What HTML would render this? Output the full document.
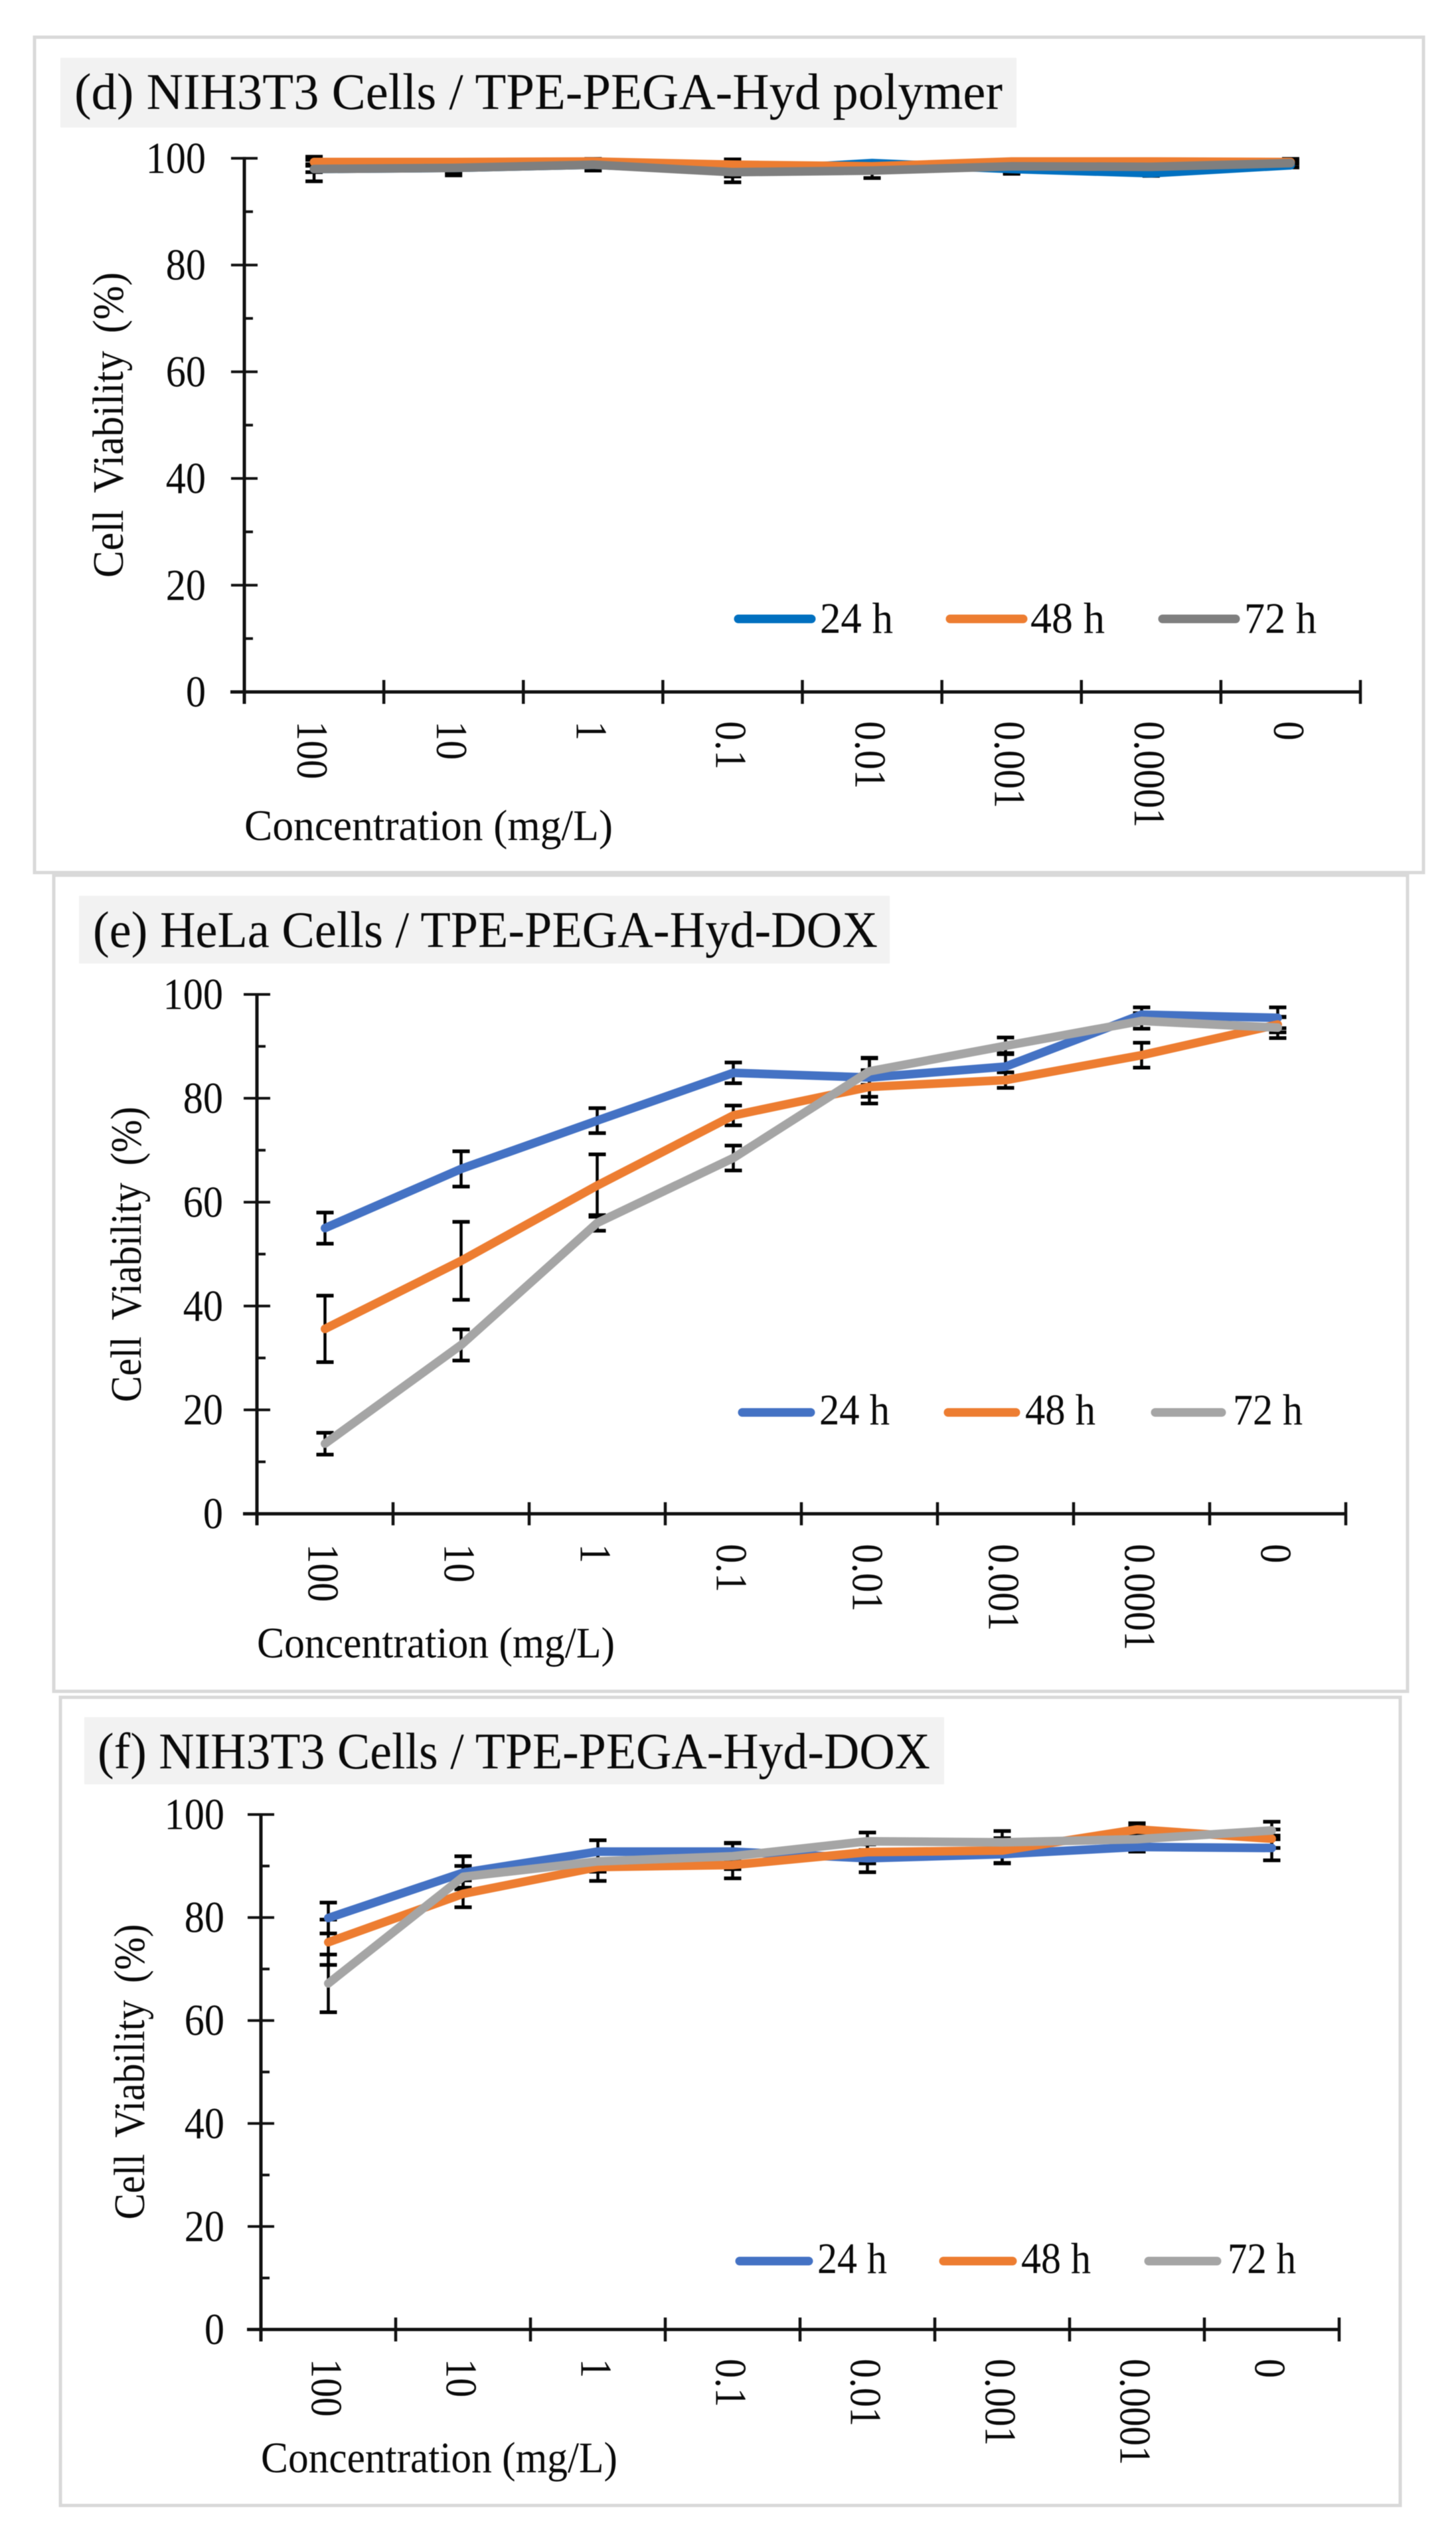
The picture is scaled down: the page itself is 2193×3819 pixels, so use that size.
<!DOCTYPE html>
<html lang="en">
<head>
<meta charset="utf-8">
<title>Cell viability charts</title>
<style>
html,body{margin:0;padding:0;background:#fff;}
svg{display:block;filter:blur(0.6px);}
text{font-family:"Liberation Serif",serif;fill:#0a0a0a;}
.box{fill:#fff;stroke:#d9d9d9;stroke-width:5;}
.tbg{fill:#f2f2f2;}
.title{font-size:77px;}
.ax{font-size:66px;}
.ytitle{font-size:66px;word-spacing:12px;}
.leg{font-size:66px;}
</style>
</head>
<body>
<svg id="root" xmlns="http://www.w3.org/2000/svg" width="2193" height="3819" viewBox="0 0 2193 3819">
<rect width="2193" height="3819" fill="#fff"/>

<g id="panel-d">
  <rect class="box" x="52" y="56" width="2092" height="1258"/>
  <rect class="tbg" x="91" y="87" width="1440" height="105"/>
  <text class="title" x="112" y="164" textLength="1398" lengthAdjust="spacingAndGlyphs">(d) NIH3T3 Cells / TPE-PEGA-Hyd polymer</text>
  <text class="ytitle" transform="translate(185,640) rotate(-90)" text-anchor="middle" textLength="460" lengthAdjust="spacingAndGlyphs">Cell Viability (%)</text>
  <text class="ax" x="368" y="1265" textLength="555" lengthAdjust="spacingAndGlyphs">Concentration (mg/L)</text>
  <g>
    <line x1="1112" y1="932" x2="1222" y2="932" stroke="#0070C0" stroke-width="13" stroke-linecap="round"/>
    <text class="leg" x="1235" y="953" textLength="110" lengthAdjust="spacingAndGlyphs">24 h</text>
    <line x1="1431" y1="932" x2="1541" y2="932" stroke="#ED7D31" stroke-width="13" stroke-linecap="round"/>
    <text class="leg" x="1552" y="953" textLength="112" lengthAdjust="spacingAndGlyphs">48 h</text>
    <line x1="1751" y1="932" x2="1861" y2="932" stroke="#7F7F7F" stroke-width="13" stroke-linecap="round"/>
    <text class="leg" x="1874" y="953" textLength="109" lengthAdjust="spacingAndGlyphs">72 h</text>
  </g>
</g>

<g id="panel-e">
  <rect class="box" x="81" y="1318" width="2039" height="1229"/>
  <rect class="tbg" x="119" y="1349" width="1221" height="102"/>
  <text class="title" x="140" y="1426" textLength="1182" lengthAdjust="spacingAndGlyphs">(e) HeLa Cells / TPE-PEGA-Hyd-DOX</text>
  <text class="ytitle" transform="translate(212,1889) rotate(-90)" text-anchor="middle" textLength="445" lengthAdjust="spacingAndGlyphs">Cell Viability (%)</text>
  <text class="ax" x="387" y="2496" textLength="539" lengthAdjust="spacingAndGlyphs">Concentration (mg/L)</text>
  <g>
    <line x1="1118" y1="2127" x2="1221" y2="2127" stroke="#4472C4" stroke-width="13" stroke-linecap="round"/>
    <text class="leg" x="1234" y="2145" textLength="106" lengthAdjust="spacingAndGlyphs">24 h</text>
    <line x1="1428" y1="2127" x2="1530" y2="2127" stroke="#ED7D31" stroke-width="13" stroke-linecap="round"/>
    <text class="leg" x="1544" y="2145" textLength="106" lengthAdjust="spacingAndGlyphs">48 h</text>
    <line x1="1740" y1="2127" x2="1840" y2="2127" stroke="#A5A5A5" stroke-width="13" stroke-linecap="round"/>
    <text class="leg" x="1857" y="2145" textLength="105" lengthAdjust="spacingAndGlyphs">72 h</text>
  </g>
</g>

<g id="panel-f">
  <rect class="box" x="91" y="2556" width="2018" height="1217"/>
  <rect class="tbg" x="127" y="2586" width="1295" height="101"/>
  <text class="title" x="147" y="2663" textLength="1254" lengthAdjust="spacingAndGlyphs">(f) NIH3T3 Cells / TPE-PEGA-Hyd-DOX</text>
  <text class="ytitle" transform="translate(217,3120) rotate(-90)" text-anchor="middle" textLength="445" lengthAdjust="spacingAndGlyphs">Cell Viability (%)</text>
  <text class="ax" x="393" y="3723" textLength="537" lengthAdjust="spacingAndGlyphs">Concentration (mg/L)</text>
  <g>
    <line x1="1114" y1="3405" x2="1218" y2="3405" stroke="#4472C4" stroke-width="13" stroke-linecap="round"/>
    <text class="leg" x="1231" y="3423" textLength="105" lengthAdjust="spacingAndGlyphs">24 h</text>
    <line x1="1421" y1="3405" x2="1525" y2="3405" stroke="#ED7D31" stroke-width="13" stroke-linecap="round"/>
    <text class="leg" x="1538" y="3423" textLength="105" lengthAdjust="spacingAndGlyphs">48 h</text>
    <line x1="1730" y1="3405" x2="1833" y2="3405" stroke="#A5A5A5" stroke-width="13" stroke-linecap="round"/>
    <text class="leg" x="1849" y="3423" textLength="103" lengthAdjust="spacingAndGlyphs">72 h</text>
  </g>
</g>
</svg>

<script>
const categories = ['100', '10', '1', '0.1', '0.01', '0.001', '0.0001', '0'];
const yTicks = [0, 10, 20, 30, 40, 50, 60, 70, 80, 90, 100];
const seriesNames = ['24h', '48h', '72h'];

const d24 = [98.0, 98.2, 98.8, 97.6, 99.1, 98.0, 97.2, 98.7];
const d48 = [99.3, 99.3, 99.4, 98.8, 98.5, 99.4, 99.4, 99.3];
const d72 = [98.0, 98.2, 98.8, 97.4, 97.7, 98.5, 98.4, 99.1];
const d24Err = [0.6, 0.8, 0.5, 1.0, 0.3, 0.9, 0.5, 0.4];
const d48Err = [0.4, 0.3, 0.3, 1.0, 0.6, 0.3, 0.3, 0.3];
const d72Err = [2.3, 1.4, 1.1, 1.9, 1.4, 1.2, 1.0, 0.8];

const e24 = [55.0, 66.4, 75.7, 84.9, 84.0, 86.1, 96.1, 95.5];
const e48 = [35.6, 48.7, 63.2, 76.7, 82.2, 83.5, 88.3, 94.2];
const e72 = [13.5, 32.5, 56.0, 68.5, 85.2, 90.1, 94.9, 93.6];
const e24Err = [3.0, 3.4, 2.4, 2.0, 3.7, 2.6, 1.4, 2.0];
const e48Err = [6.4, 7.5, 6.0, 1.9, 3.2, 1.5, 2.4, 1.5];
const e72Err = [2.1, 3.0, 1.5, 2.4, 2.6, 1.6, 1.5, 2.0];

const f24 = [79.9, 88.7, 92.8, 92.8, 91.5, 92.3, 93.7, 93.5];
const f48 = [75.2, 84.6, 89.8, 90.2, 92.7, 93.0, 97.1, 95.3];
const f72 = [67.2, 87.9, 90.9, 91.9, 94.8, 94.6, 95.2, 96.9];
const f24Err = [3.0, 3.2, 2.2, 1.7, 2.7, 1.8, 0.8, 2.4];
const f48Err = [4.4, 2.6, 2.7, 2.6, 2.2, 2.4, 1.2, 1.8];
const f72Err = [5.6, 2.1, 2.0, 2.5, 1.7, 2.2, 2.4, 1.7];

const SVGNS = 'http://www.w3.org/2000/svg';

function drawLine(parent, x1, y1, x2, y2, stroke, width) {
  const el = document.createElementNS(SVGNS, 'line');
  el.setAttribute('x1', x1);
  el.setAttribute('y1', y1);
  el.setAttribute('x2', x2);
  el.setAttribute('y2', y2);
  el.setAttribute('stroke', stroke);
  el.setAttribute('stroke-width', width);
  parent.appendChild(el);
  return el;
}

function drawPanel(id, geom, values, errors, colors) {
  const panel = document.getElementById('panel-' + id);
  const xScale = function (i) { return geom.x0 + (geom.x1 - geom.x0) * i / categories.length; };
  const xCenter = function (i) { return xScale(i + 0.5); };
  const yScale = function (v) { return geom.y0 + (geom.y100 - geom.y0) * v / 100; };
  const axisColor = '#111';
  const tickReach = geom.tickBottom - geom.y0;

  const axes = document.createElementNS(SVGNS, 'g');
  
  
  panel.appendChild(axes);

  const yAxis = drawLine(axes, geom.x0, yScale(100) - 2, geom.x0, geom.tickBottom, axisColor, 5);
  
  

  const xAxis = drawLine(axes, geom.x0 - 21, yScale(0), geom.x1 + 2, yScale(0), axisColor, 5);
  
  

  yTicks.forEach(function (v) {
    const major = v % 20 === 0;
    const tick = drawLine(axes, major ? geom.x0 - 20 : geom.x0, yScale(v), geom.x0 + (major ? 20 : 13), yScale(v), axisColor, 4);
    
    
    if (major) {
      const label = document.createElementNS(SVGNS, 'text');
      label.textContent = String(v);
      label.setAttribute('transform', 'translate(' + geom.yLabelRight + ',' + (yScale(v) + 22) + ') scale(0.9,1)');
      label.setAttribute('text-anchor', 'end');
      label.setAttribute('font-size', '67');
      
      
      axes.appendChild(label);
    }
  });

  for (let i = 0; i <= categories.length; i++) {
    const tick = drawLine(axes, xScale(i), geom.y0 - tickReach, xScale(i), geom.tickBottom, axisColor, 4.5);
    
    
  }

  categories.forEach(function (c, i) {
    const label = document.createElementNS(SVGNS, 'text');
    label.textContent = c;
    label.setAttribute('transform', 'translate(' + (xCenter(i) - 25) + ',' + (geom.xLabelTop + 1) + ') rotate(90) scale(0.87,1)');
    label.setAttribute('font-size', '67');
    
    
    axes.appendChild(label);
  });

  const capHalf = 13;
  errors.forEach(function (errs, s) {
    errs.forEach(function (err, i) {
      const cx = xCenter(i);
      const top = yScale(values[s][i] + err);
      const bottom = yScale(values[s][i] - err);
      const stem = drawLine(panel, cx, top, cx, bottom, '#000', 4.5);
      
      
      const capTop = drawLine(panel, cx - capHalf, top, cx + capHalf, top, '#000', 5.5);
      
      
      const capBottom = drawLine(panel, cx - capHalf, bottom, cx + capHalf, bottom, '#000', 5.5);
      
      
    });
  });

  values.forEach(function (vals, s) {
    const path = document.createElementNS(SVGNS, 'polyline');
    path.setAttribute('points', vals.map(function (v, i) { return xCenter(i) + ',' + yScale(v); }).join(' '));
    path.setAttribute('fill', 'none');
    path.setAttribute('stroke', colors[s]);
    path.setAttribute('stroke-width', geom.lineWidth);
    path.setAttribute('stroke-linejoin', 'round');
    path.setAttribute('stroke-linecap', 'round');
    
    
    panel.appendChild(path);
  });
}

drawPanel('d',
  { x0: 368, x1: 2049, y0: 1042, y100: 238.4, tickBottom: 1060, yLabelRight: 310, xLabelTop: 1085, lineWidth: 13 },
  [d24, d48, d72], [d24Err, d48Err, d72Err], ['#0070C0', '#ED7D31', '#7F7F7F']);
drawPanel('e',
  { x0: 387, x1: 2027, y0: 2279.6, y100: 1497.5, tickBottom: 2297, yLabelRight: 336, xLabelTop: 2324, lineWidth: 13 },
  [e24, e48, e72], [e24Err, e48Err, e72Err], ['#4472C4', '#ED7D31', '#A5A5A5']);
drawPanel('f',
  { x0: 393, x1: 2017, y0: 3508, y100: 2732.5, tickBottom: 3526, yLabelRight: 338, xLabelTop: 3551, lineWidth: 13 },
  [f24, f48, f72], [f24Err, f48Err, f72Err], ['#4472C4', '#ED7D31', '#A5A5A5']);
</script>
</body>
</html>
